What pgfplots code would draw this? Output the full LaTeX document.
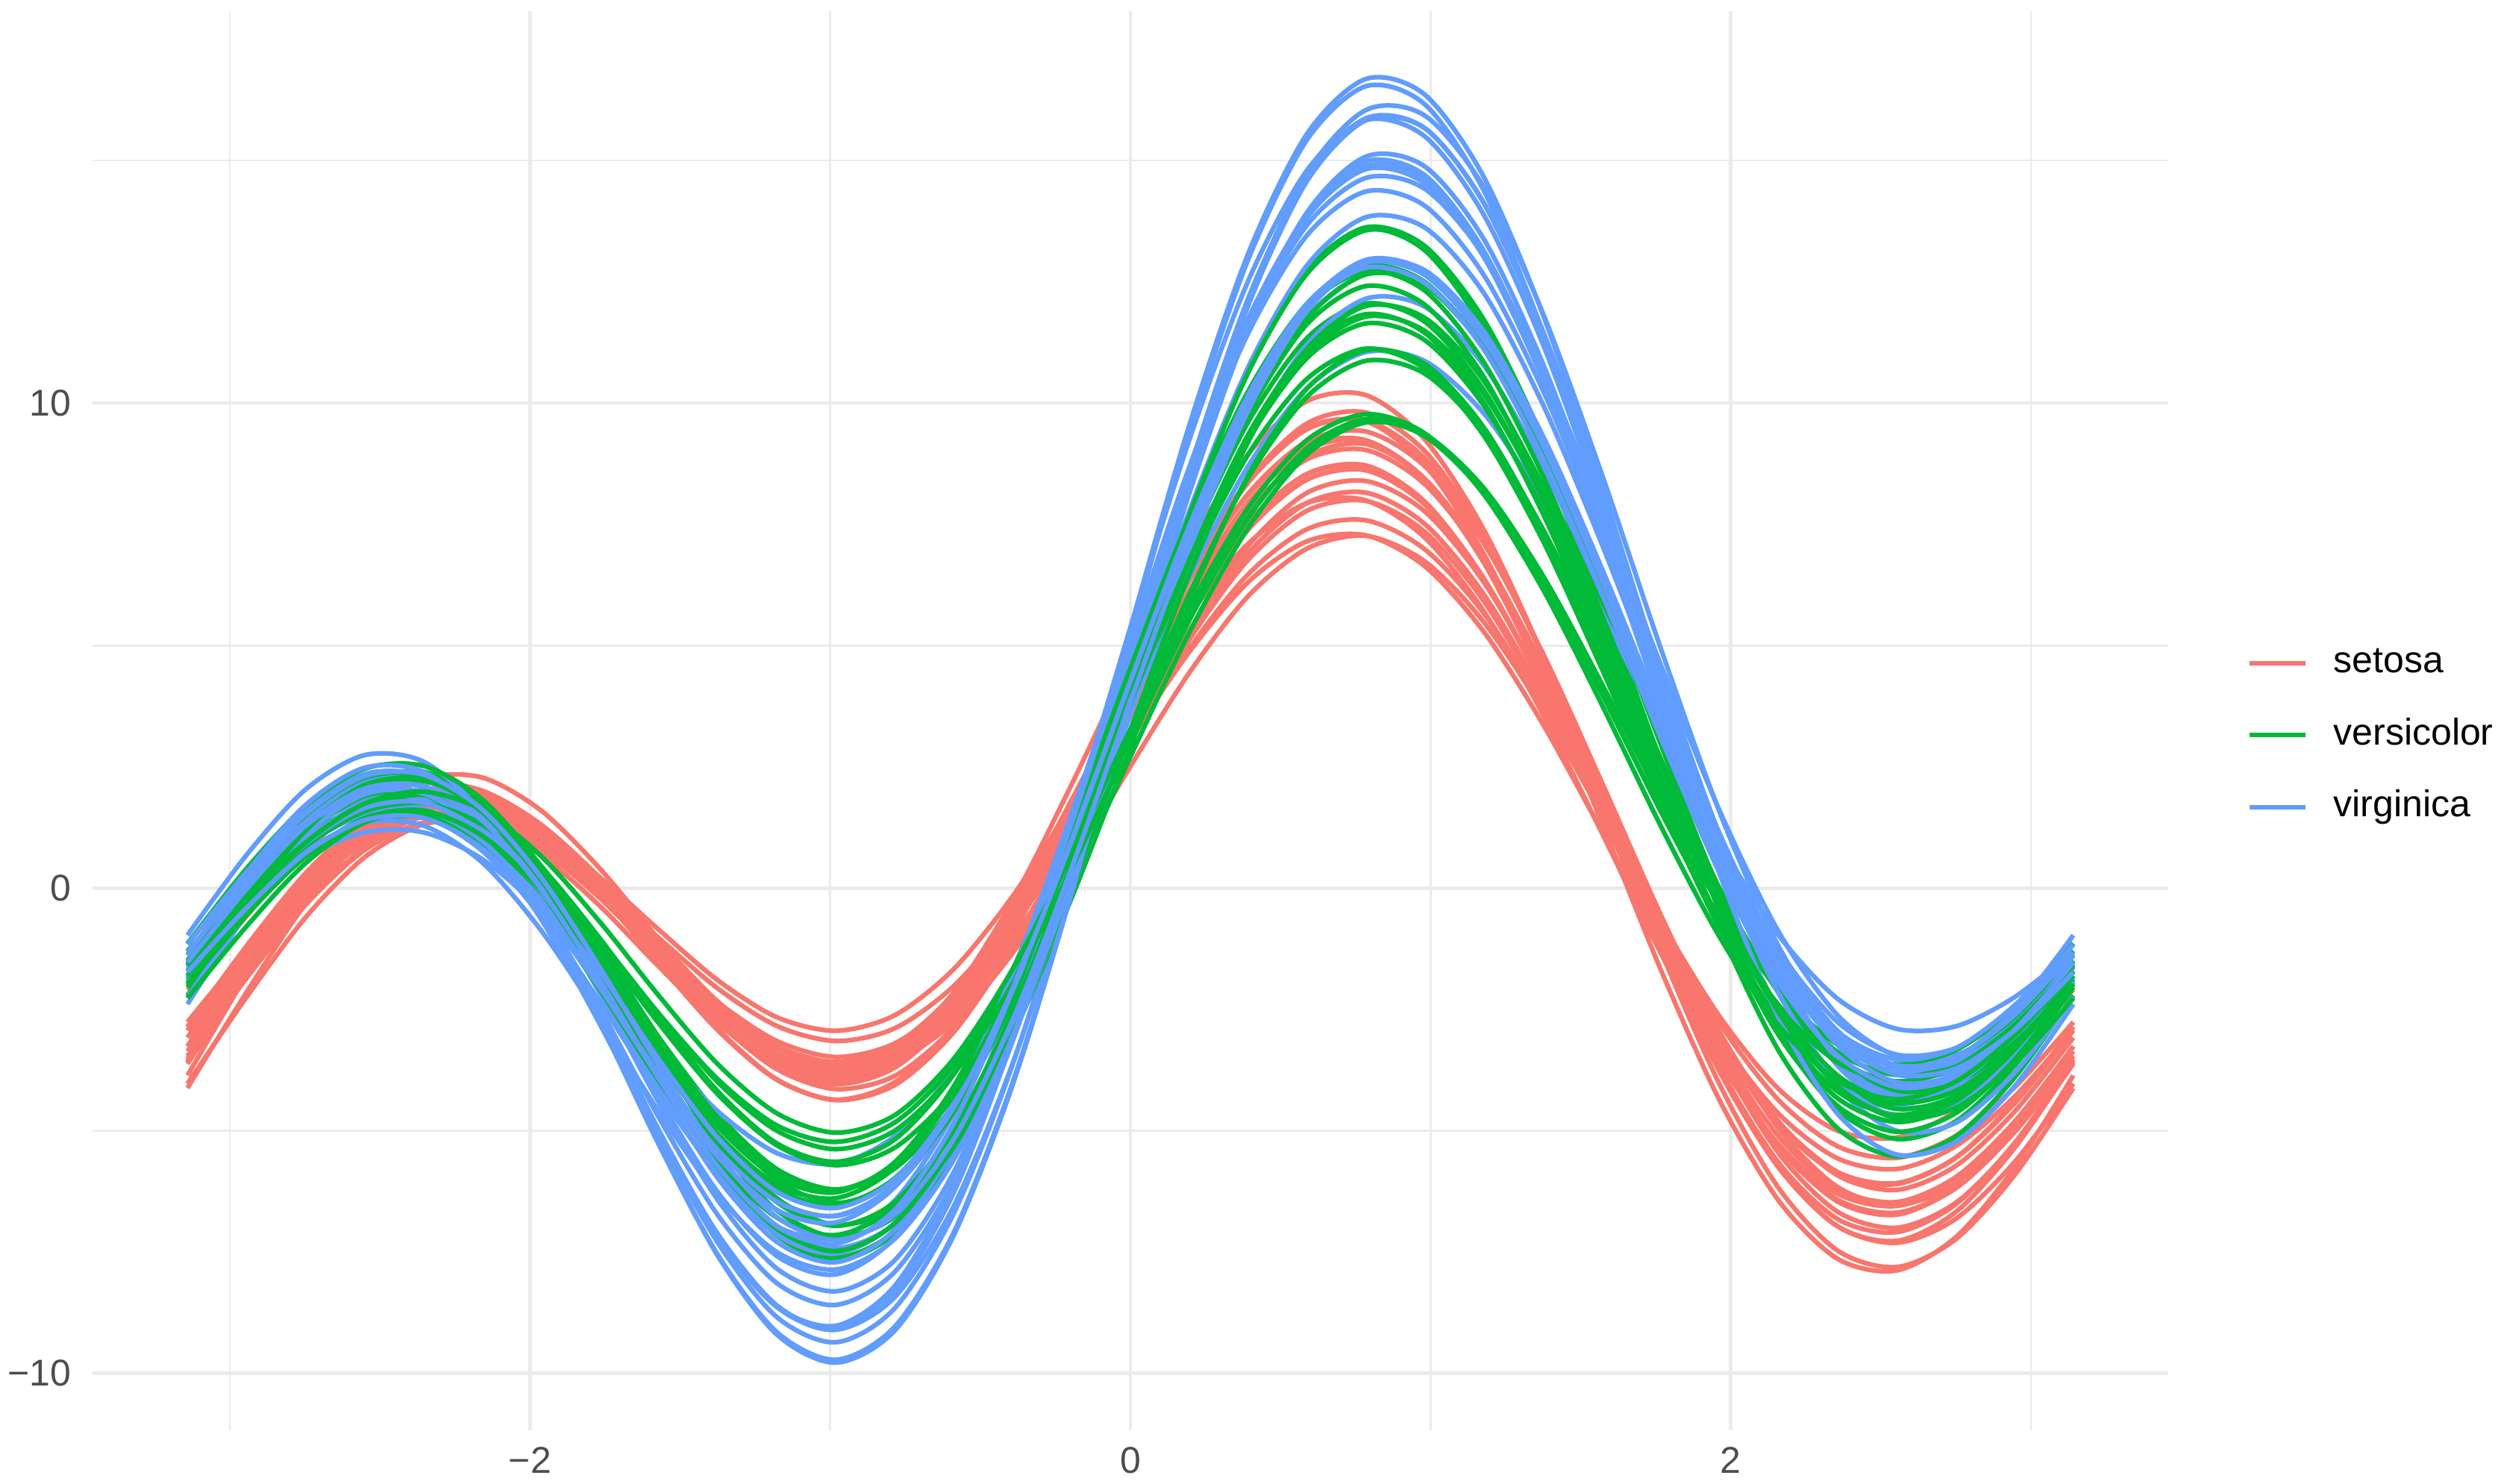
\documentclass[border=0pt]{standalone}
\usepackage{fontspec}
\setmainfont{Liberation Sans}
\usepackage{pgfplots}
\usepackage{pgfplotstable}
\pgfplotsset{compat=1.18}
\definecolor{setosaC}{HTML}{F8766D}
\definecolor{versiC}{HTML}{00BA38}
\definecolor{virgiC}{HTML}{619CFF}
\definecolor{gridC}{HTML}{EBEBEB}
\definecolor{tickC}{HTML}{4D4D4D}

\pgfplotstableread{
t r1 r2 r5 r6 r8 r9 r11 r13 r14 r15 r16 r19 r21 r23 r26 r33 r42 r44 r45
-3.1416 -3.36 -2.86 -3.46 -3.62 -3.26 -2.76 -3.56 -2.93 -2.93 -3.86 -4.12 -3.59 -3.26 -3.46 -2.86 -4.03 -2.09 -3.08 -3.52
-2.9452 -1.61 -1.20 -1.75 -1.81 -1.57 -1.29 -1.71 -1.31 -1.44 -1.80 -2.15 -1.67 -1.46 -1.83 -1.20 -2.25 -0.58 -1.41 -1.86
-2.7489 -0.02 0.30 -0.19 -0.15 -0.04 0.04 -0.03 0.16 -0.08 0.09 -0.33 0.08 0.17 -0.32 0.29 -0.61 0.77 0.11 -0.35
-2.5525 1.17 1.40 0.99 1.08 1.10 1.02 1.22 1.23 0.94 1.51 1.06 1.37 1.36 0.84 1.38 0.63 1.74 1.25 0.78
-2.3562 1.78 1.93 1.61 1.72 1.68 1.50 1.86 1.76 1.47 2.26 1.81 2.02 1.94 1.49 1.89 1.31 2.17 1.82 1.35
-2.1598 1.74 1.84 1.60 1.69 1.63 1.43 1.83 1.68 1.46 2.28 1.86 1.95 1.83 1.56 1.76 1.35 2.01 1.77 1.30
-1.9635 1.12 1.17 1.01 1.04 0.99 0.85 1.16 1.02 0.95 1.60 1.24 1.22 1.09 1.09 1.05 0.79 1.31 1.14 0.68
-1.7671 0.04 0.06 -0.02 -0.08 -0.08 -0.11 0.02 -0.05 0.05 0.40 0.14 -0.02 -0.12 0.22 -0.10 -0.21 0.21 0.09 -0.37
-1.5708 -1.26 -1.26 -1.26 -1.42 -1.36 -1.26 -1.36 -1.33 -1.03 -1.06 -1.22 -1.49 -1.56 -0.86 -1.46 -1.43 -1.09 -1.18 -1.62
-1.3744 -2.50 -2.52 -2.44 -2.69 -2.58 -2.35 -2.68 -2.55 -2.07 -2.48 -2.51 -2.90 -2.93 -1.90 -2.76 -2.59 -2.34 -2.38 -2.79
-1.1781 -3.42 -3.47 -3.31 -3.61 -3.48 -3.15 -3.65 -3.47 -2.84 -3.54 -3.45 -3.94 -3.95 -2.66 -3.73 -3.42 -3.29 -3.25 -3.62
-0.9817 -3.79 -3.88 -3.64 -3.95 -3.84 -3.48 -4.04 -3.86 -3.15 -3.99 -3.79 -4.36 -4.37 -2.94 -4.14 -3.70 -3.75 -3.58 -3.90
-0.7854 -3.47 -3.63 -3.30 -3.56 -3.52 -3.20 -3.70 -3.60 -2.89 -3.68 -3.37 -4.00 -4.06 -2.62 -3.87 -3.29 -3.58 -3.23 -3.47
-0.5890 -2.44 -2.67 -2.26 -2.41 -2.49 -2.29 -2.60 -2.65 -2.02 -2.56 -2.16 -2.84 -2.97 -1.67 -2.87 -2.16 -2.76 -2.18 -2.33
-0.3927 -0.77 -1.09 -0.61 -0.58 -0.83 -0.83 -0.83 -1.09 -0.62 -0.72 -0.26 -0.96 -1.19 -0.17 -1.24 -0.39 -1.34 -0.49 -0.54
-0.1963 1.35 0.94 1.49 1.71 1.27 1.03 1.41 0.90 1.15 1.61 2.13 1.43 1.08 1.72 0.86 1.81 0.49 1.63 1.69
0 3.64 3.14 3.74 4.18 3.54 3.04 3.84 3.07 3.07 4.14 4.68 4.01 3.54 3.74 3.14 4.17 2.51 3.92 4.08
0.1963 5.80 5.23 5.86 6.51 5.68 4.94 6.13 5.12 4.87 6.52 7.07 6.45 5.88 5.63 5.31 6.38 4.44 6.08 6.33
0.3927 7.52 6.91 7.54 8.36 7.39 6.47 7.95 6.77 6.31 8.40 8.95 8.40 7.75 7.10 7.06 8.11 6.02 7.81 8.13
0.5890 8.54 7.94 8.53 9.46 8.42 7.40 9.04 7.78 7.15 9.49 10.04 9.58 8.90 7.94 8.15 9.12 7.00 8.84 9.21
0.7854 8.71 8.15 8.68 9.64 8.61 7.58 9.22 7.98 7.27 9.62 10.16 9.80 9.15 7.99 8.39 9.23 7.26 9.03 9.41
0.9817 7.96 7.50 7.93 8.85 7.90 6.98 8.43 7.34 6.63 8.72 9.24 9.00 8.43 7.22 7.76 8.40 6.73 8.32 8.69
1.1781 6.38 6.05 6.35 7.17 6.36 5.66 6.76 5.91 5.28 6.88 7.38 7.27 6.83 5.70 6.30 6.70 5.48 6.78 7.10
1.3744 4.15 3.97 4.13 4.78 4.19 3.76 4.40 3.87 3.38 4.32 4.79 4.80 4.54 3.58 4.21 4.33 3.66 4.59 4.84
1.5708 1.54 1.54 1.54 1.98 1.64 1.54 1.64 1.47 1.17 1.34 1.78 1.91 1.84 1.14 1.74 1.57 1.51 2.02 2.18
1.7671 -1.12 -0.95 -1.10 -0.88 -0.97 -0.74 -1.18 -0.98 -1.08 -1.68 -1.29 -1.04 -0.92 -1.34 -0.79 -1.25 -0.68 -0.60 -0.55
1.9635 -3.51 -3.18 -3.48 -3.46 -3.31 -2.79 -3.71 -3.18 -3.10 -4.38 -4.05 -3.70 -3.41 -3.57 -3.07 -3.79 -2.65 -2.97 -3.02
2.1598 -5.35 -4.89 -5.32 -5.46 -5.12 -4.37 -5.66 -4.87 -4.65 -6.44 -6.18 -5.75 -5.32 -5.28 -4.82 -5.76 -4.14 -4.81 -4.96
2.3562 -6.44 -5.89 -6.42 -6.67 -6.20 -5.32 -6.82 -5.86 -5.57 -7.64 -7.47 -6.97 -6.46 -6.30 -5.85 -6.97 -5.00 -5.92 -6.16
2.5525 -6.70 -6.10 -6.69 -7.00 -6.47 -5.56 -7.09 -6.08 -5.79 -7.88 -7.81 -7.27 -6.73 -6.55 -6.09 -7.31 -5.14 -6.22 -6.53
2.7489 -6.16 -5.56 -6.19 -6.49 -5.96 -5.11 -6.52 -5.56 -5.32 -7.20 -7.24 -6.68 -6.17 -6.06 -5.56 -6.82 -4.60 -5.73 -6.11
2.9452 -4.97 -4.40 -5.03 -5.28 -4.82 -4.11 -5.26 -4.44 -4.30 -5.77 -5.92 -5.36 -4.93 -4.96 -4.40 -5.65 -3.51 -4.61 -5.03
3.1416 -3.36 -2.86 -3.46 -3.62 -3.26 -2.76 -3.56 -2.93 -2.93 -3.86 -4.12 -3.59 -3.26 -3.46 -2.86 -4.03 -2.09 -3.08 -3.52
}\setosa

\pgfplotstableread{
t r51 r53 r54 r56 r58 r61 r62 r63 r65 r69 r71 r72 r75 r78 r84 r86 r94 r97 r99
-3.1416 -2.21 -2.04 -1.38 -1.88 -1.69 -1.29 -1.94 -1.49 -1.98 -1.14 -1.93 -1.88 -1.98 -1.80 -1.57 -2.27 -1.59 -1.98 -1.72
-2.9452 -0.39 -0.29 -0.01 -0.52 -0.42 -0.02 -0.44 0.07 -0.48 0.40 -0.54 -0.27 -0.32 -0.15 -0.22 -0.79 -0.28 -0.56 -0.31
-2.7489 1.19 1.20 1.15 0.64 0.69 1.06 0.85 1.39 0.82 1.69 0.65 1.11 1.12 1.25 0.93 0.51 0.86 0.66 0.93
-2.5525 2.19 2.14 1.87 1.36 1.41 1.72 1.68 2.20 1.68 2.46 1.40 2.01 2.03 2.12 1.60 1.35 1.58 1.44 1.74
-2.3562 2.40 2.30 1.96 1.46 1.58 1.82 1.87 2.32 1.92 2.52 1.52 2.21 2.23 2.25 1.62 1.55 1.75 1.60 1.99
-2.1598 1.77 1.64 1.40 0.89 1.16 1.31 1.35 1.70 1.49 1.83 0.96 1.67 1.65 1.57 0.93 1.04 1.31 1.08 1.61
-1.9635 0.37 0.23 0.23 -0.28 0.21 0.24 0.21 0.41 0.44 0.45 -0.22 0.46 0.36 0.17 -0.37 -0.09 0.31 -0.04 0.66
-1.7671 -1.57 -1.71 -1.35 -1.86 -1.12 -1.20 -1.39 -1.35 -1.04 -1.41 -1.80 -1.22 -1.42 -1.72 -2.10 -1.65 -1.07 -1.59 -0.70
-1.5708 -3.71 -3.84 -3.08 -3.58 -2.59 -2.79 -3.14 -3.29 -2.68 -3.44 -3.53 -3.08 -3.38 -3.80 -3.97 -3.37 -2.59 -3.28 -2.22
-1.3744 -5.68 -5.78 -4.66 -5.13 -3.94 -4.25 -4.73 -5.08 -4.19 -5.30 -5.07 -4.79 -5.18 -5.68 -5.64 -4.92 -4.00 -4.82 -3.63
-1.1781 -7.08 -7.16 -5.79 -6.20 -4.89 -5.30 -5.84 -6.39 -5.26 -6.64 -6.11 -6.02 -6.47 -7.01 -6.79 -5.97 -5.00 -5.88 -4.64
-0.9817 -7.61 -7.67 -6.21 -6.53 -5.23 -5.71 -6.22 -6.94 -5.64 -7.19 -6.39 -6.49 -6.96 -7.48 -7.15 -6.27 -5.38 -6.23 -5.04
-0.7854 -7.07 -7.11 -5.78 -5.98 -4.83 -5.35 -5.69 -6.57 -5.18 -6.77 -5.76 -6.03 -6.47 -6.91 -6.57 -5.65 -5.00 -5.70 -4.68
-0.5890 -5.43 -5.46 -4.47 -4.52 -3.66 -4.20 -4.23 -5.23 -3.84 -5.34 -4.18 -4.61 -4.97 -5.27 -5.00 -4.09 -3.83 -4.27 -3.52
-0.3927 -2.80 -2.83 -2.38 -2.25 -1.80 -2.32 -1.95 -3.03 -1.74 -3.01 -1.78 -2.34 -2.57 -2.68 -2.57 -1.69 -1.97 -2.04 -1.67
-0.1963 0.53 0.50 0.29 0.61 0.54 0.07 0.93 -0.21 0.92 -0.03 1.22 0.55 0.48 0.60 0.49 1.29 0.41 0.76 0.69
0 4.19 4.16 3.22 3.72 3.11 2.71 4.06 2.91 3.82 3.26 4.47 3.72 3.82 4.20 3.83 4.53 3.01 3.82 3.28
0.1963 7.73 7.70 6.06 6.72 5.58 5.27 7.08 5.94 6.61 6.47 7.61 6.78 7.05 7.68 7.07 7.64 5.52 6.76 5.77
0.3927 10.70 10.68 8.46 9.26 7.65 7.43 9.61 8.51 8.94 9.20 10.24 9.35 9.77 10.63 9.82 10.24 7.63 9.24 7.84
0.5890 12.73 12.74 10.13 11.01 9.06 8.94 11.34 10.30 10.50 11.12 12.05 11.11 11.63 12.67 11.75 12.00 9.07 10.93 9.24
0.7854 13.58 13.62 10.87 11.78 9.64 9.60 12.05 11.09 11.12 12.00 12.83 11.83 12.41 13.56 12.65 12.72 9.67 11.64 9.77
0.9817 13.14 13.23 10.60 11.48 9.31 9.35 11.67 10.80 10.70 11.75 12.49 11.44 12.02 13.22 12.42 12.31 9.35 11.29 9.37
1.1781 11.51 11.65 9.38 10.18 8.14 8.24 10.26 9.49 9.32 10.45 11.11 10.00 10.53 11.71 11.12 10.83 8.17 9.94 8.11
1.3744 8.90 9.11 7.40 8.06 6.29 6.44 8.02 7.36 7.16 8.28 8.86 7.72 8.15 9.26 8.96 8.50 6.31 7.79 6.16
1.5708 5.69 5.96 4.92 5.42 4.01 4.21 5.26 4.71 4.52 5.56 6.07 4.92 5.22 6.20 6.23 5.63 4.01 5.12 3.78
1.7671 2.30 2.62 2.29 2.61 1.60 1.84 2.34 1.91 1.74 2.67 3.10 1.96 2.12 2.96 3.31 2.59 1.58 2.29 1.28
1.9635 -0.84 -0.48 -0.15 -0.03 -0.63 -0.36 -0.38 -0.68 -0.83 -0.01 0.31 -0.77 -0.74 -0.06 0.57 -0.26 -0.66 -0.34 -1.01
2.1598 -3.35 -2.96 -2.11 -2.16 -2.41 -2.11 -2.57 -2.73 -2.87 -2.15 -1.97 -2.95 -3.03 -2.50 -1.67 -2.56 -2.45 -2.47 -2.83
2.3562 -4.95 -4.57 -3.38 -3.58 -3.56 -3.23 -3.99 -4.02 -4.19 -3.51 -3.50 -4.33 -4.49 -4.08 -3.17 -4.09 -3.59 -3.86 -3.97
2.5525 -5.53 -5.17 -3.85 -4.18 -3.98 -3.63 -4.55 -4.44 -4.67 -4.00 -4.17 -4.82 -5.02 -4.71 -3.82 -4.74 -3.99 -4.42 -4.35
2.7489 -5.12 -4.81 -3.56 -3.98 -3.71 -3.34 -4.28 -4.04 -4.34 -3.63 -4.02 -4.45 -4.64 -4.39 -3.66 -4.53 -3.69 -4.18 -3.99
2.9452 -3.91 -3.66 -2.66 -3.13 -2.88 -2.49 -3.32 -2.97 -3.37 -2.59 -3.19 -3.38 -3.54 -3.33 -2.82 -3.62 -2.82 -3.29 -3.04
3.1416 -2.21 -2.04 -1.38 -1.88 -1.69 -1.29 -1.94 -1.49 -1.98 -1.14 -1.93 -1.88 -1.98 -1.80 -1.57 -2.27 -1.59 -1.98 -1.72
}\versicolor

\pgfplotstableread{
t r101 r102 r103 r106 r107 r108 r110 r118 r119 r120 r121 r123 r126 r129 r132 r135 r137 r139 r145 r147 r150
-3.1416 -1.53 -1.36 -1.52 -1.52 -1.30 -1.63 -1.83 -2.24 -0.97 -1.14 -1.57 -1.39 -1.93 -1.32 -2.39 -1.61 -1.70 -1.73 -1.53 -1.16 -1.73
-2.9452 -0.23 -0.08 0.11 0.16 -0.25 -0.01 -0.20 -0.53 0.68 0.22 0.02 0.31 -0.28 0.10 -0.54 -0.32 -0.32 -0.31 -0.02 0.33 -0.41
-2.7489 0.88 1.00 1.48 1.56 0.64 1.35 1.20 0.93 2.03 1.36 1.37 1.71 1.11 1.28 1.04 0.76 0.87 0.91 1.28 1.57 0.72
-2.5525 1.51 1.62 2.27 2.35 1.15 2.11 2.04 1.79 2.74 2.00 2.17 2.48 1.93 1.96 2.00 1.35 1.58 1.65 2.05 2.31 1.40
-2.3562 1.49 1.63 2.29 2.30 1.15 2.07 2.11 1.83 2.61 1.97 2.23 2.40 1.97 1.95 2.10 1.29 1.63 1.76 2.10 2.34 1.45
-2.1598 0.77 0.96 1.47 1.35 0.60 1.17 1.35 0.99 1.56 1.22 1.48 1.40 1.16 1.19 1.28 0.53 0.97 1.16 1.39 1.62 0.82
-1.9635 -0.58 -0.30 -0.09 -0.39 -0.45 -0.50 -0.16 -0.64 -0.30 -0.16 0.01 -0.40 -0.40 -0.24 -0.37 -0.87 -0.32 -0.07 -0.02 0.22 -0.42
-1.7671 -2.35 -1.97 -2.17 -2.66 -1.83 -2.68 -2.16 -2.81 -2.70 -1.98 -1.95 -2.76 -2.48 -2.10 -2.58 -2.68 -2.05 -1.72 -1.90 -1.64 -2.06
-1.5708 -4.23 -3.76 -4.42 -5.12 -3.30 -5.03 -4.33 -5.14 -5.27 -3.94 -4.07 -5.29 -4.73 -4.12 -4.99 -4.61 -3.90 -3.53 -3.93 -3.66 -3.83
-1.3744 -5.88 -5.35 -6.43 -7.31 -4.60 -7.13 -6.27 -7.22 -7.58 -5.71 -5.98 -7.56 -6.74 -5.91 -7.15 -6.33 -5.54 -5.15 -5.74 -5.48 -5.40
-1.1781 -6.97 -6.44 -7.84 -8.84 -5.46 -8.60 -7.58 -8.63 -9.20 -6.96 -7.29 -9.15 -8.14 -7.14 -8.63 -7.50 -6.63 -6.26 -6.97 -6.78 -6.46
-0.9817 -7.21 -6.76 -8.31 -9.36 -5.68 -9.10 -7.96 -9.02 -9.78 -7.42 -7.71 -9.72 -8.59 -7.53 -9.10 -7.86 -6.89 -6.59 -7.33 -7.25 -6.75
-0.7854 -6.44 -6.15 -7.67 -8.66 -5.11 -8.43 -7.20 -8.20 -9.12 -6.92 -7.04 -9.04 -7.91 -6.90 -8.32 -7.23 -6.16 -6.00 -6.63 -6.73 -6.11
-0.5890 -4.64 -4.61 -5.86 -6.71 -3.75 -6.56 -5.28 -6.12 -7.16 -5.43 -5.26 -7.10 -6.05 -5.21 -6.28 -5.60 -4.41 -4.44 -4.85 -5.18 -4.52
-0.3927 -1.93 -2.22 -3.02 -3.64 -1.68 -3.62 -2.33 -2.94 -4.06 -3.06 -2.48 -4.01 -3.16 -2.60 -3.11 -3.06 -1.76 -2.04 -2.10 -2.72 -2.08
-0.1963 1.42 0.78 0.56 0.23 0.90 0.09 1.35 1.03 -0.12 -0.05 1.01 -0.09 0.49 0.69 0.87 0.11 1.53 0.98 1.33 0.41 0.96
0 5.07 4.04 4.49 4.49 3.70 4.17 5.37 5.36 4.23 3.26 4.83 4.21 4.47 4.29 5.21 3.59 5.10 4.27 5.07 3.84 4.27
0.1963 8.59 7.21 8.30 8.62 6.41 8.14 9.24 9.54 8.47 6.49 8.52 8.41 8.34 7.77 9.41 6.97 8.54 7.45 8.68 7.18 7.47
0.3927 11.57 9.89 11.54 12.16 8.70 11.53 12.52 13.08 12.11 9.25 11.64 12.01 11.62 10.74 12.96 9.85 11.44 10.13 11.74 10.02 10.17
0.5890 13.67 11.78 13.82 14.67 10.31 13.93 14.80 15.55 14.74 11.21 13.83 14.58 13.92 12.84 15.43 11.90 13.46 11.98 13.87 12.02 12.05
0.7854 14.64 12.66 14.88 15.87 11.05 15.08 15.83 16.68 16.04 12.15 14.82 15.83 14.98 13.83 16.53 12.89 14.36 12.79 14.83 12.95 12.90
0.9817 14.41 12.44 14.62 15.66 10.86 14.87 15.49 16.35 15.92 11.98 14.52 15.66 14.69 13.61 16.15 12.73 14.06 12.47 14.53 12.71 12.63
1.1781 13.03 11.19 13.10 14.11 9.78 13.37 13.87 14.65 14.44 10.77 13.00 14.12 13.13 12.26 14.37 11.47 12.63 11.10 13.04 11.38 11.31
1.3744 10.71 9.09 10.57 11.45 7.98 10.81 11.21 11.82 11.85 8.69 10.48 11.48 10.54 9.97 11.46 9.32 10.26 8.86 10.57 9.15 9.12
1.5708 7.77 6.44 7.39 8.09 5.70 7.57 7.87 8.26 8.53 6.06 7.33 8.11 7.27 7.09 7.81 6.59 7.30 6.07 7.47 6.34 6.37
1.7671 4.60 3.60 3.97 4.46 3.25 4.09 4.29 4.44 4.94 3.24 3.95 4.49 3.78 3.98 3.93 3.64 4.12 3.10 4.15 3.35 3.43
1.9635 1.59 0.92 0.77 1.06 0.94 0.82 0.94 0.85 1.56 0.60 0.79 1.09 0.50 1.06 0.29 0.86 1.12 0.32 1.03 0.55 0.67
2.1598 -0.90 -1.28 -1.84 -1.72 -0.97 -1.84 -1.81 -2.10 -1.20 -1.55 -1.79 -1.69 -2.17 -1.33 -2.67 -1.44 -1.36 -1.95 -1.52 -1.71 -1.60
2.3562 -2.62 -2.76 -3.56 -3.57 -2.28 -3.62 -3.66 -4.09 -3.03 -2.96 -3.51 -3.53 -3.95 -2.94 -4.65 -2.99 -3.05 -3.45 -3.24 -3.19 -3.14
2.5525 -3.46 -3.43 -4.29 -4.37 -2.90 -4.38 -4.49 -5.00 -3.82 -3.53 -4.24 -4.31 -4.71 -3.65 -5.49 -3.70 -3.84 -4.10 -4.00 -3.78 -3.84
2.7489 -3.44 -3.30 -4.05 -4.14 -2.85 -4.16 -4.32 -4.84 -3.58 -3.30 -4.03 -4.05 -4.48 -3.48 -5.23 -3.58 -3.76 -3.91 -3.84 -3.51 -3.72
2.9452 -2.71 -2.53 -3.02 -3.08 -2.25 -3.14 -3.33 -3.81 -2.53 -2.42 -3.04 -2.97 -3.45 -2.62 -4.09 -2.80 -2.96 -3.03 -2.92 -2.54 -2.93
3.1416 -1.53 -1.36 -1.52 -1.52 -1.30 -1.63 -1.83 -2.24 -0.97 -1.14 -1.57 -1.39 -1.93 -1.32 -2.39 -1.61 -1.70 -1.73 -1.53 -1.16 -1.73
}\virginica

\begin{document}
\begin{tikzpicture}
\useasboundingbox (-21.9pt,-12.5pt) rectangle (569.7pt,337.6pt);
\begin{axis}[
  at={(0pt,0pt)}, anchor=south west,
  scale only axis, width=489.7pt, height=334.9pt,
  xmin=-3.457, xmax=3.457, ymin=-11.18, ymax=18.07,
  xtick={-2,0,2}, xticklabels={−2,0,2},
  minor xtick={-3,-1,1,3},
  ytick={-10,0,10}, yticklabels={−10,0,10},
  minor ytick={-5,5,15},
  grid=both,
  major grid style={line width=0.8pt, draw=gridC},
  minor grid style={line width=0.45pt, draw=gridC},
  axis line style={draw=none},
  major tick length=0pt, minor tick length=0pt,
  tick style={draw=none},
  ticklabel style={font=\fontsize{8.8}{10}\selectfont, text=tickC},
  xticklabel style={anchor=north, inner sep=0pt, yshift=-3.7pt},
  yticklabel style={anchor=east, inner sep=0pt, xshift=-4.9pt},
  legend style={draw=none, fill=none, at={(1.0378,0.490)}, anchor=west,
    inner sep=0pt, font=\fontsize{8.8}{10}\selectfont, row sep=8.6pt,
    nodes={inner sep=0pt, text height=6.5pt, text depth=1.9pt},
    /tikz/every odd column/.append style={column sep=6.1pt}},
  legend cell align=left,
  legend image code/.code={\draw[#1, line width=1.1pt] (0pt,0pt) -- (13.2pt,0pt);},
  every axis plot/.append style={line width=1.1pt, smooth, no markers, forget plot, line join=round},
]
\addplot[setosaC] table[x=t,y=r1]{\setosa};
\addplot[setosaC] table[x=t,y=r2]{\setosa};
\addplot[setosaC] table[x=t,y=r5]{\setosa};
\addplot[setosaC] table[x=t,y=r6]{\setosa};
\addplot[setosaC] table[x=t,y=r8]{\setosa};
\addplot[setosaC] table[x=t,y=r9]{\setosa};
\addplot[setosaC] table[x=t,y=r11]{\setosa};
\addplot[setosaC] table[x=t,y=r13]{\setosa};
\addplot[setosaC] table[x=t,y=r14]{\setosa};
\addplot[setosaC] table[x=t,y=r15]{\setosa};
\addplot[setosaC] table[x=t,y=r16]{\setosa};
\addplot[setosaC] table[x=t,y=r19]{\setosa};
\addplot[setosaC] table[x=t,y=r21]{\setosa};
\addplot[setosaC] table[x=t,y=r23]{\setosa};
\addplot[setosaC] table[x=t,y=r26]{\setosa};
\addplot[setosaC] table[x=t,y=r33]{\setosa};
\addplot[setosaC] table[x=t,y=r42]{\setosa};
\addplot[setosaC] table[x=t,y=r44]{\setosa};
\addplot[setosaC] table[x=t,y=r45]{\setosa};
\addplot[virgiC] table[x=t,y=r101]{\virginica};
\addplot[versiC] table[x=t,y=r51]{\versicolor};
\addplot[virgiC] table[x=t,y=r102]{\virginica};
\addplot[versiC] table[x=t,y=r53]{\versicolor};
\addplot[virgiC] table[x=t,y=r103]{\virginica};
\addplot[versiC] table[x=t,y=r54]{\versicolor};
\addplot[virgiC] table[x=t,y=r106]{\virginica};
\addplot[versiC] table[x=t,y=r56]{\versicolor};
\addplot[virgiC] table[x=t,y=r107]{\virginica};
\addplot[versiC] table[x=t,y=r58]{\versicolor};
\addplot[virgiC] table[x=t,y=r108]{\virginica};
\addplot[versiC] table[x=t,y=r61]{\versicolor};
\addplot[virgiC] table[x=t,y=r110]{\virginica};
\addplot[versiC] table[x=t,y=r62]{\versicolor};
\addplot[virgiC] table[x=t,y=r118]{\virginica};
\addplot[versiC] table[x=t,y=r63]{\versicolor};
\addplot[virgiC] table[x=t,y=r119]{\virginica};
\addplot[versiC] table[x=t,y=r65]{\versicolor};
\addplot[virgiC] table[x=t,y=r120]{\virginica};
\addplot[versiC] table[x=t,y=r69]{\versicolor};
\addplot[virgiC] table[x=t,y=r121]{\virginica};
\addplot[versiC] table[x=t,y=r71]{\versicolor};
\addplot[virgiC] table[x=t,y=r123]{\virginica};
\addplot[versiC] table[x=t,y=r72]{\versicolor};
\addplot[virgiC] table[x=t,y=r126]{\virginica};
\addplot[versiC] table[x=t,y=r75]{\versicolor};
\addplot[virgiC] table[x=t,y=r129]{\virginica};
\addplot[versiC] table[x=t,y=r78]{\versicolor};
\addplot[virgiC] table[x=t,y=r132]{\virginica};
\addplot[versiC] table[x=t,y=r84]{\versicolor};
\addplot[virgiC] table[x=t,y=r135]{\virginica};
\addplot[versiC] table[x=t,y=r86]{\versicolor};
\addplot[virgiC] table[x=t,y=r137]{\virginica};
\addplot[versiC] table[x=t,y=r94]{\versicolor};
\addplot[virgiC] table[x=t,y=r139]{\virginica};
\addplot[versiC] table[x=t,y=r97]{\versicolor};
\addplot[virgiC] table[x=t,y=r145]{\virginica};
\addplot[versiC] table[x=t,y=r99]{\versicolor};
\addplot[virgiC] table[x=t,y=r147]{\virginica};
\addplot[virgiC] table[x=t,y=r150]{\virginica};
\addlegendimage{setosaC}
\addlegendentry{setosa}
\addlegendimage{versiC}
\addlegendentry{versicolor}
\addlegendimage{virgiC}
\addlegendentry{virginica}
\end{axis}
\end{tikzpicture}
\end{document}
